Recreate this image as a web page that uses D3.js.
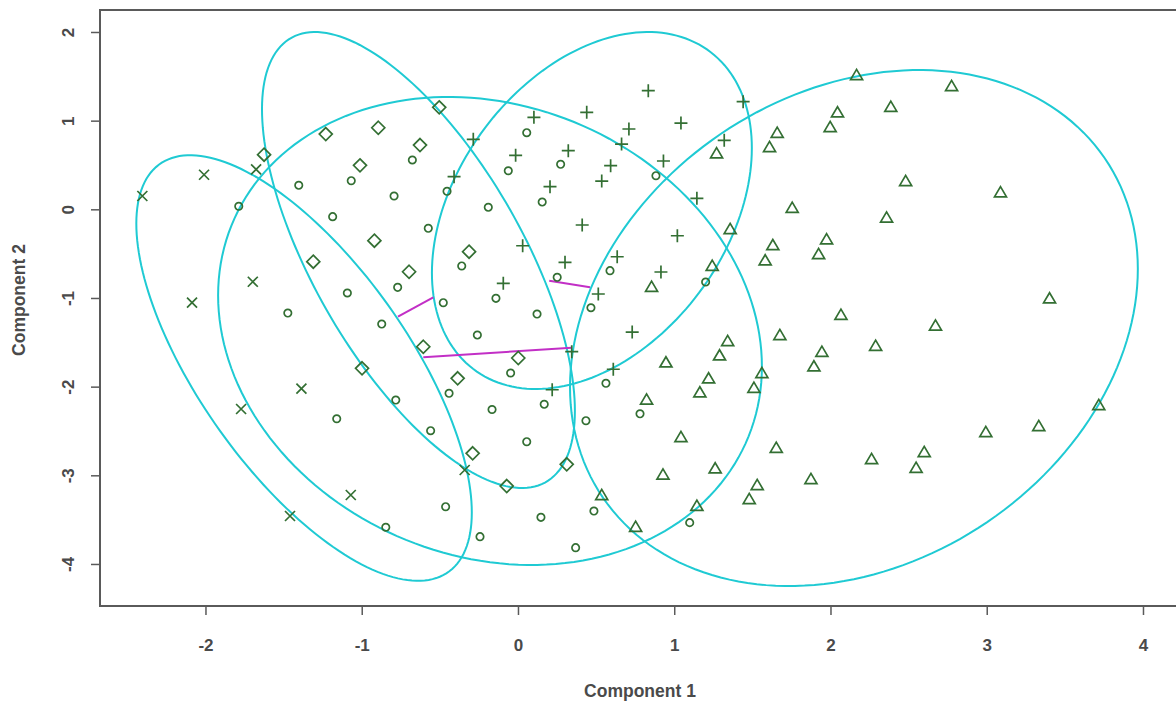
<!DOCTYPE html>
<html><head><meta charset="utf-8">
<script src="https://cdn.jsdelivr.net/npm/d3@7"></script>
<style>
html,body{margin:0;padding:0;background:#fff;overflow:hidden;}
text{font-family:"Liberation Sans Narrow","Liberation Sans",Arial,sans-serif;font-weight:bold;fill:#4a4a4a;}
</style></head>
<body><svg id="c" width="1176" height="707"></svg>
<script>
// ---- data ----
const xTicks = [-2, -1, 0, 1, 2, 3, 4];
const yTicks = [2, 1, 0, -1, -2, -3, -4];
const xLabel = "Component 1";
const yLabel = "Component 2";

// cluster 1 (circles)
const cluster1 = [[-1.787,0.034],[-1.403,0.271],[-1.067,0.323],[-0.793,0.150],[-1.186,-0.083],[0.056,0.864],[-0.676,0.556],[-0.454,0.203],[-0.062,0.435],[0.273,0.508],[0.155,0.082],[-0.190,0.023],[0.883,0.379],[-1.092,-0.944],[-1.473,-1.170],[-0.872,-1.294],[-0.770,-0.880],[-0.782,-2.151],[-1.160,-2.362],[-0.574,-0.214],[-0.360,-0.639],[-0.478,-1.053],[-0.141,-1.004],[0.122,-1.181],[0.251,-0.767],[0.589,-0.692],[0.467,-1.110],[-0.260,-1.418],[-0.047,-1.846],[-0.441,-2.075],[-0.166,-2.258],[0.168,-2.199],[0.563,-1.962],[0.781,-2.306],[-0.559,-2.497],[0.056,-2.621],[0.435,-2.384],[-0.463,-3.354],[0.147,-3.474],[0.486,-3.403],[-0.243,-3.692],[0.369,-3.816],[-0.846,-3.586],[1.099,-3.534],[1.201,-0.820]];
// cluster 2 (triangles)
const cluster2 = [[2.167,1.515],[2.775,1.391],[2.045,1.094],[2.386,1.157],[1.998,0.928],[1.659,0.864],[1.610,0.703],[1.271,0.632],[2.481,0.319],[1.755,0.018],[2.359,-0.092],[3.088,0.192],[1.358,-0.222],[1.631,-0.403],[1.582,-0.575],[1.975,-0.338],[1.924,-0.504],[1.243,-0.636],[0.855,-0.873],[2.067,-1.189],[2.672,-1.310],[3.402,-1.004],[1.676,-1.418],[1.342,-1.485],[1.290,-1.647],[0.947,-1.726],[2.289,-1.538],[1.945,-1.606],[1.894,-1.771],[1.220,-1.906],[1.164,-2.064],[1.561,-1.846],[1.510,-2.012],[0.823,-2.145],[3.717,-2.207],[1.043,-2.568],[1.653,-2.689],[1.262,-2.921],[0.928,-2.991],[1.531,-3.109],[1.480,-3.267],[1.875,-3.042],[2.263,-2.816],[2.600,-2.737],[2.548,-2.914],[1.145,-3.343],[0.536,-3.222],[0.753,-3.580],[2.994,-2.512],[3.333,-2.444]];
// cluster 3 (plus)
const cluster3 = [[0.102,1.038],[0.440,1.094],[0.834,1.338],[0.710,0.906],[0.663,0.736],[1.043,0.973],[1.441,1.214],[1.320,0.778],[-0.286,0.789],[-0.015,0.609],[0.322,0.661],[0.593,0.492],[0.536,0.319],[0.931,0.545],[-0.409,0.368],[0.205,0.255],[1.145,0.124],[0.411,-0.177],[0.030,-0.411],[-0.094,-0.835],[0.301,-0.598],[0.635,-0.535],[0.915,-0.707],[1.020,-0.298],[0.514,-0.955],[0.731,-1.384],[0.344,-1.606],[0.610,-1.804],[0.219,-2.035]];
// cluster 4 (x)
const cluster4 = [[-2.404,0.150],[-2.009,0.390],[-1.676,0.451],[-2.086,-1.053],[-1.697,-0.817],[-1.772,-2.252],[-1.386,-2.023],[-1.070,-3.222],[-1.459,-3.459],[-0.341,-2.940]];
// cluster 5 (diamonds)
const cluster5 = [[-1.625,0.616],[-1.230,0.849],[-0.894,0.920],[-1.011,0.496],[-0.504,1.150],[-0.627,0.725],[-0.919,-0.354],[-1.310,-0.591],[-0.697,-0.704],[-0.313,-0.478],[-0.606,-1.550],[-0.998,-1.793],[-0.386,-1.906],[0.002,-1.677],[-0.290,-2.752],[-0.072,-3.121],[0.312,-2.876]];

// cluster ellipses: centre and covariance [sxx, sxy, syy]
const ellipseCenters = [[-0.179,-1.372],[2.150,-1.339],[0.473,-0.0135],[-1.369,-1.790],[-0.637,-0.572]];
const ellipseCov = [[3.028,-0.700,6.965],[3.3015,1.210,8.466],[1.048,0.7213,4.052],[1.1525,-1.749,5.761],[1.0025,-1.7027,6.612]];

// segments between neighbouring ellipses
const segStart = [[-0.768,-1.211],[-0.606,-1.669],[0.200,-0.805]];
const segEnd   = [[-0.542,-0.992],[0.344,-1.561],[0.461,-0.880]];

// ---- drawing ----
const svg = d3.select("#c");
const x = d3.scaleLinear().domain([-2.675, 4.45]).range([100, 1213.3]);
const y = d3.scaleLinear().domain([-4.474, 2.248]).range([606, 10]);

const axisColor = "#5a5a5a";
const ptColor = "#336f33";
const ellColor = "#1fcad3";
const segColor = "#c22fc6";
const fontFam = '"Liberation Sans Narrow","Liberation Sans",Arial,sans-serif';

// ellipses
const line = d3.line().x(d => x(d[0])).y(d => y(d[1])).curve(d3.curveLinearClosed);
ellipseCenters.forEach((c, i) => {
  const [a, b, cc] = ellipseCov[i];
  const l11 = Math.sqrt(a), l21 = b / l11, l22 = Math.sqrt(cc - l21 * l21);
  const pts = d3.range(0, 360, 2).map(deg => {
    const t = deg * Math.PI / 180, u = Math.cos(t), v = Math.sin(t);
    return [c[0] + l11 * u, c[1] + l21 * u + l22 * v];
  });
  svg.append("path").attr("d", line(pts)).attr("fill", "none")
    .attr("stroke", ellColor).attr("stroke-width", 2);
});

// segments
segStart.forEach((s, i) => {
  svg.append("line").attr("x1", x(s[0])).attr("y1", y(s[1]))
    .attr("x2", x(segEnd[i][0])).attr("y2", y(segEnd[i][1]))
    .attr("stroke", segColor).attr("stroke-width", 2);
});

// symbols
const shapes = {
  circle: () => "M3.7,0A3.7,3.7 0 1,1 -3.7,0A3.7,3.7 0 1,1 3.7,0Z",
  triangle: () => "M0,-5.6L6,4.6L-6,4.6Z",
  plus: () => "M-6.5,0L6.5,0M0,-6.5L0,6.5",
  cross: () => "M-5,-5L5,5M-5,5L5,-5",
  diamond: () => "M0,-6.5L6.5,0L0,6.5L-6.5,0Z"
};
const groups = [[cluster1, "circle"], [cluster2, "triangle"], [cluster3, "plus"], [cluster4, "cross"], [cluster5, "diamond"]];
groups.forEach(([data, shp]) => {
  svg.append("g").selectAll("path").data(data).join("path")
    .attr("transform", d => `translate(${x(d[0])},${y(d[1])})`)
    .attr("d", shapes[shp]())
    .attr("fill", "none").attr("stroke", ptColor).attr("stroke-width", 1.7);
});

// frame
svg.append("rect").attr("x", 100).attr("y", 10).attr("width", 1113).attr("height", 596)
  .attr("fill", "none").attr("stroke", axisColor).attr("stroke-width", 2);

// x axis
const xa = svg.append("g").attr("transform", "translate(0,606)")
  .call(d3.axisBottom(x).tickValues(xTicks).tickSize(9).tickPadding(24).tickFormat(d => String(d)));
xa.select(".domain").remove();
xa.selectAll("line").attr("stroke", axisColor).attr("stroke-width", 1.5);
xa.selectAll("text").attr("font-size", 17).attr("fill", "#4a4a4a")
  .style("font-family", fontFam).style("font-weight", "bold");

// y axis
const ya = svg.append("g").attr("transform", "translate(100,0)")
  .call(d3.axisLeft(y).tickValues(yTicks).tickSize(9).tickFormat(d => String(d)));
ya.select(".domain").remove();
ya.selectAll("line").attr("stroke", axisColor).attr("stroke-width", 1.5);
ya.selectAll("text").attr("font-size", 17).attr("fill", "#4a4a4a")
  .style("font-family", fontFam).style("font-weight", "bold")
  .attr("x", null).attr("dy", null).attr("text-anchor", "middle")
  .attr("transform", "translate(-26,0) rotate(-90)");

// axis titles
svg.append("text").attr("x", 640).attr("y", 697).attr("text-anchor", "middle")
  .attr("font-size", 17.5).text(xLabel);
svg.append("text").attr("transform", "translate(25,300) rotate(-90)").attr("text-anchor", "middle")
  .attr("font-size", 17.5).text(yLabel);
</script></body></html>
